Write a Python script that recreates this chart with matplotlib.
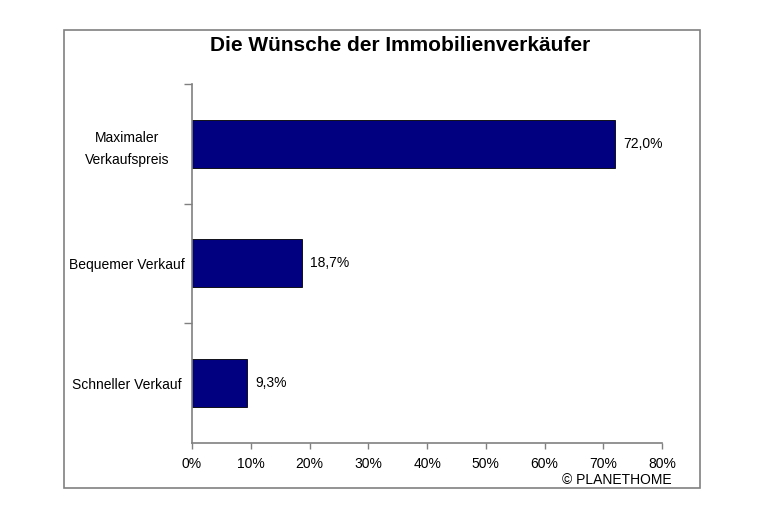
import matplotlib as mpl
mpl.use('Agg')
import matplotlib.pyplot as plt
from matplotlib.patches import Rectangle
from matplotlib.ticker import FixedLocator

categories = ['Schneller Verkauf', 'Bequemer Verkauf', 'Maximaler\nVerkaufspreis']
values = [9.3, 18.7, 72.0]
value_labels = ['9,3%', '18,7%', '72,0%']
xticks = [0, 10, 20, 30, 40, 50, 60, 70, 80]

plt.rcParams['font.family'] = ['Liberation Sans', 'DejaVu Sans']

fig = plt.figure(figsize=(7.62, 5.08), dpi=100)
fig.patches.append(Rectangle((0.084, 0.039), 0.835, 0.902, transform=fig.transFigure,
                             fill=False, edgecolor='#808080', linewidth=1.2))

ax = fig.add_axes([0.252, 0.128, 0.617, 0.707])
ypos = range(len(categories))
ax.barh(ypos, values, height=0.4, color='#000080', edgecolor='black', linewidth=0.6)
for y, v, lab in zip(ypos, values, value_labels):
    ax.annotate(lab, (v, y), xytext=(6, 0), textcoords='offset points',
                va='center', ha='left', fontsize=10)

ax.set_xlim(0, 80)
ax.set_ylim(-0.5, 2.5)
ax.set_xticks(xticks)
ax.set_xticklabels(['%d%%' % t for t in xticks], fontsize=10)
ax.set_yticks(list(ypos))
ax.set_yticklabels(categories, fontsize=10, ha='center', multialignment='center',
                   linespacing=1.7)
ax.tick_params(axis='y', which='major', length=0, pad=47)
# separators between the categories, no tick at the bottom corner
ax.yaxis.set_minor_locator(FixedLocator([0.5, 1.5, 2.5]))
ax.tick_params(axis='y', which='minor', length=6, color='#808080', width=1)
ax.tick_params(axis='x', length=4, color='#808080', width=1, pad=6)

for s in ['top', 'right']:
    ax.spines[s].set_visible(False)
for s in ['left', 'bottom']:
    ax.spines[s].set_color('#808080')
    ax.spines[s].set_linewidth(1.2)

fig.text(0.525, 0.91, 'Die Wünsche der Immobilienverkäufer', ha='center', va='center',
         fontsize=15, fontweight='bold')
fig.text(0.882, 0.055, '© PLANETHOME', ha='right', va='center', fontsize=10)

fig.savefig('out.png', dpi=100)
